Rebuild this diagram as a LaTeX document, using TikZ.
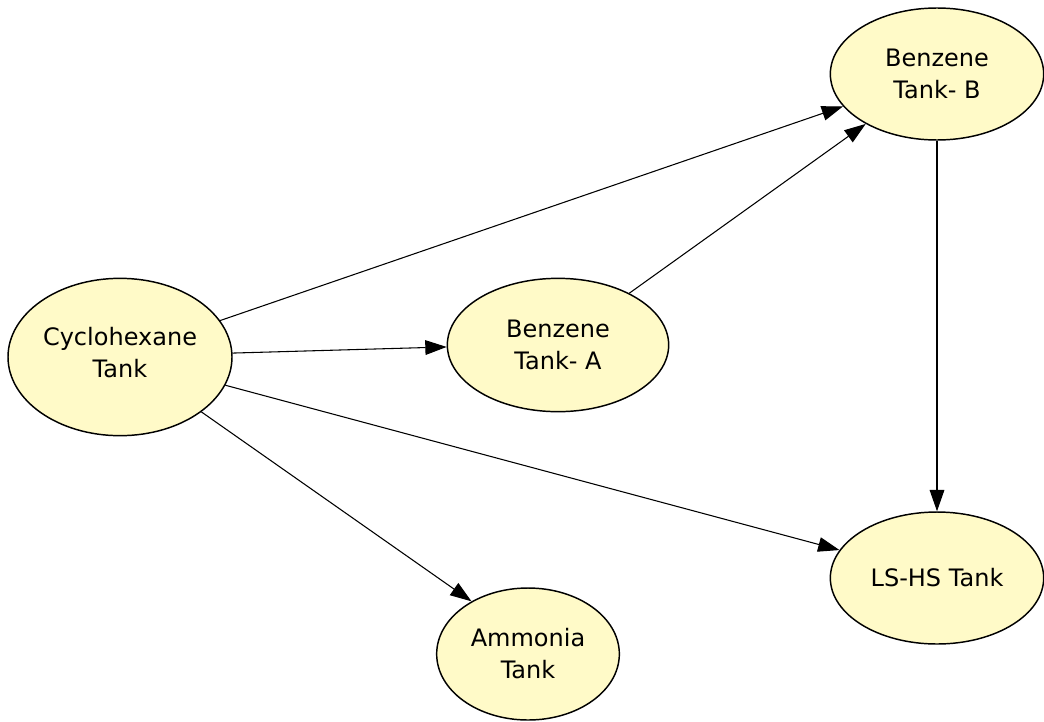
\documentclass[tikz,border=0pt]{standalone}
\usepackage{fontspec}
\setmainfont{DejaVu Sans}
\usetikzlibrary{shapes.geometric,arrows.meta}
\definecolor{tankfill}{RGB}{255,250,200}
\tikzset{
  tankfont/.style={font=\fontsize{18}{24}\selectfont, align=center},
  tank/.style={ellipse, draw=black, line width=1.1pt, fill=tankfill, inner sep=0pt, tankfont},
  flow/.style={draw=black, line width=0.8pt, -{Triangle[length=16pt,width=11pt]}}
}
\begin{document}
\begin{tikzpicture}[x=0.75pt,y=-0.75pt]
\useasboundingbox (0,0) rectangle (1044,721);
\node[tank, minimum width=168pt, minimum height=118pt,
  label={[tankfont, yshift=3.5pt]center:{Cyclohexane\\Tank}}] (cy) at (120,357) {};
\node[tank, minimum width=160pt, minimum height=99pt] (bb) at (937,74) {Benzene\\Tank- B};
\node[tank, minimum width=166pt, minimum height=100pt] (ba) at (558,345) {Benzene\\Tank- A};
\node[tank, minimum width=160pt, minimum height=99pt] (ls) at (937,578) {LS-HS Tank};
\node[tank, minimum width=137pt, minimum height=99pt] (am) at (528,654) {Ammonia\\Tank};
\draw[flow] (cy.20) -- (bb.199);
\draw[flow] (cy.2.6) -- (ba.181);
\draw[flow] (ba.36) -- (bb.215);
\draw[flow] (bb.south) -- (ls.north);
\draw[flow] (cy.345) -- (ls.164);
\draw[flow] (cy.326) -- (am.137);
\end{tikzpicture}
\end{document}
